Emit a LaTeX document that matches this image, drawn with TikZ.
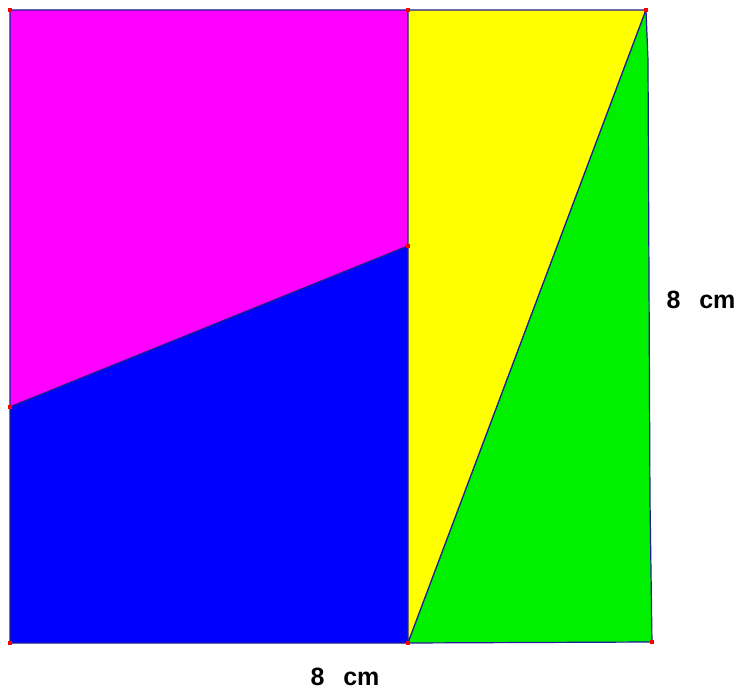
\documentclass[tikz,border=0pt]{standalone}
\usepackage{fontspec}
\setmainfont{Liberation Sans}
\definecolor{mag}{RGB}{255,0,255}
\definecolor{blu}{RGB}{0,0,255}
\definecolor{yel}{RGB}{255,255,0}
\definecolor{grn}{RGB}{0,240,0}
\definecolor{edge}{RGB}{30,30,150}
\begin{document}
\begin{tikzpicture}[x=1pt,y=-1pt,
  region/.style={draw=edge,line width=1.2pt,line join=round},
  vdot/.style={fill=red,inner sep=0pt,minimum size=3.5pt,rectangle},
  lbl/.style={font=\bfseries\fontsize{25}{25}\selectfont,inner sep=0pt}]
\useasboundingbox (0,0) rectangle (740,690);
\coordinate (TL) at (10,10);
\coordinate (TM) at (408,10);
\coordinate (TR) at (646,10);
\coordinate (ML) at (10,407);
\coordinate (MM) at (408,246);
\coordinate (BL) at (10,643);
\coordinate (BM) at (408,643);
\coordinate (BR) at (652,642);
\filldraw[region,fill=mag] (TL) -- (TM) -- (MM) -- (ML) -- cycle;
\filldraw[region,fill=blu] (ML) -- (MM) -- (BM) -- (BL) -- cycle;
\filldraw[region,fill=yel] (TM) -- (TR) -- (BM) -- cycle;
\filldraw[region,fill=grn] (TR) -- (648,60) -- (650,500) -- (BR) -- (BM) -- cycle;
\foreach \p in {TL,TM,TR,ML,MM,BL,BM,BR} \node[vdot] at (\p) {};
\node[lbl] (r) at (701,300) {8\hspace{0.75em}cm};
\node[lbl] (b) at (345,677) {8\hspace{0.75em}cm};
\end{tikzpicture}
\end{document}
